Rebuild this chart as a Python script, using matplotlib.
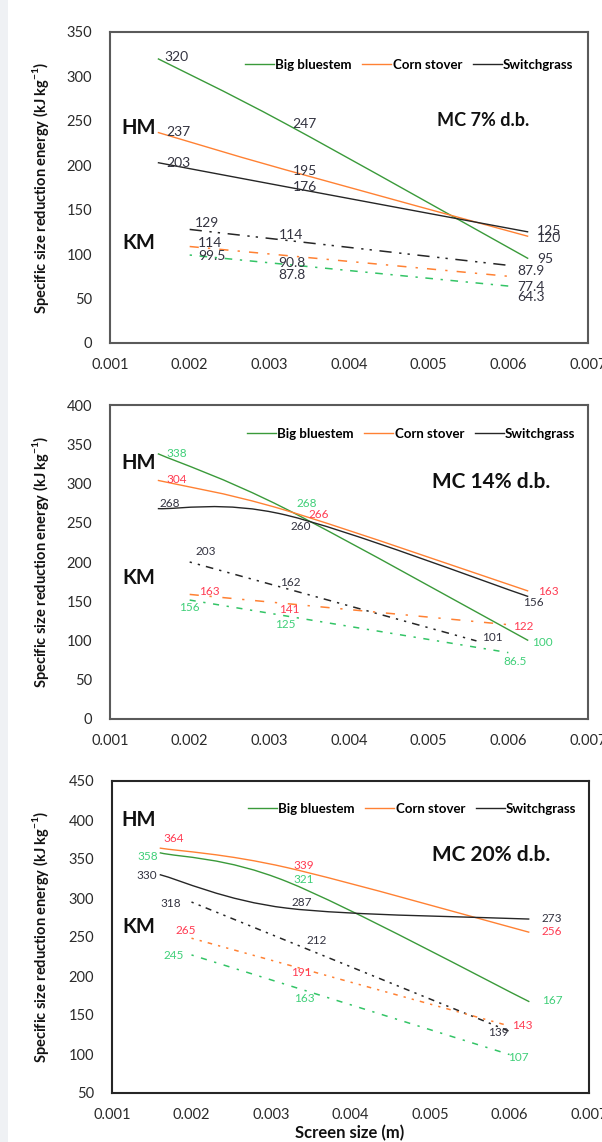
import numpy as np
import matplotlib
matplotlib.use("Agg")
import matplotlib.pyplot as plt
from matplotlib.path import Path
from matplotlib.patches import PathPatch, Rectangle
from matplotlib.lines import Line2D

plt.rcParams["font.family"] = ["Lato", "DejaVu Sans"]
plt.rcParams["mathtext.fontset"] = "custom"
plt.rcParams["mathtext.rm"] = "Lato"
plt.rcParams["mathtext.bf"] = "Lato:bold"

# ---------------- data ----------------
species = ["Big bluestem", "Corn stover", "Switchgrass"]
moisture_labels = ["MC 7% d.b.", "MC 14% d.b.", "MC 20% d.b."]
x_tick_values = [0.001, 0.002, 0.003, 0.004, 0.005, 0.006, 0.007]
x_tick_labels = ["0.001", "0.002", "0.003", "0.004", "0.005", "0.006", "0.007"]

# screen sizes (m)
hm_size = [0.0016, 0.0032, 0.00625]
km_size = [0.002, 0.0032, 0.006]
km_size_sg14 = [0.002, 0.0032, 0.0056]

# hammer mill (HM) energy, kJ/kg  (big bluestem, corn stover, switchgrass)
hm7_bb = [320, 247, 95]
hm7_cs = [237, 195, 120]
hm7_sg = [203, 176, 125]
hm14_bb = [338, 268, 100]
hm14_cs = [304, 266, 163]
hm14_sg = [268, 260, 156]
hm20_bb = [358, 321, 167]
hm20_cs = [364, 339, 256]
hm20_sg = [330, 287, 273]

# knife mill (KM) energy, kJ/kg
km7_bb = [99.5, 87.8, 64.3]
km7_cs = [114, 90.8, 77.4]
km7_sg = [129, 114, 87.9]
km14_bb = [156, 125, 86.5]
km14_cs = [163, 141, 122]
km14_sg = [203, 162, 101]
km20_bb = [245, 163, 107]
km20_cs = [265, 191, 143]
km20_sg = [318, 212, 139]

y_limits = [(0, 350), (0, 400), (50, 450)]

# ---------------- styling ----------------
W, H = 602, 1142
GREEN_HM = "#3a9a3a"
GREEN_KM = "#33c466"
ORANGE = "#ff8133"
BLACK = "#262626"
LBL_GREEN = "#3fcf78"
LBL_RED = "#ff3b52"
LBL_DARK = "#333340"

# axes frames in pixels: left, top, right, bottom
frames = [(110, 32, 588, 343), (110, 405, 588, 719), (112, 781, 589, 1093)]

# knife-mill dash patterns, order sg, cs, bb
km_dash = [
    [(0, (8, 5, 1.5, 4, 1.5, 5)), (0, (6, 6, 1.5, 6)), (0, (1.5, 5, 5, 5))],
    [(0, (1.5, 4, 1.5, 4, 5, 4)), (0, (6, 7, 1.5, 7)), (0, (4, 5, 1.5, 5))],
    [(0, (1.5, 3.5, 1.5, 3.5, 4, 3.5)), (0, (1.5, 4, 1.5, 4, 3, 4)), (0, (1.5, 5, 4, 5))],
]

# label offsets in pixels (dx, dy, ha) per series point
hm_offsets = [
    {"bb": [(7, 2, "left"), (7, 0, "left"), (9, 0, "left")],
     "cs": [(8, 0, "left"), (8, -1, "left"), (9, -2, "left")],
     "sg": [(8, 0, "left"), (8, 0, "left"), (9, 1, "left")]},
    {"bb": [(9, 0, "left"), (11, 5, "left"), (4, -2, "left")],
     "cs": [(9, 1, "left"), (23, -4, "left"), (10, 0, "left")],
     "sg": [(2, 5, "left"), (5, -12, "left"), (-5, -6, "left")]},
    {"bb": [(-2, -4, "right"), (7, 2, "left"), (13, 1, "left")],
     "cs": [(4, 10, "left"), (7, 2, "left"), (12, 1, "left")],
     "sg": [(-3, -1, "right"), (5, 6, "left"), (12, 1, "left")]},
]
km_offsets = [
    {"bb": [(9, -1, "left"), (-7, -10, "left"), (9, -11, "left")],
     "cs": [(8, -1, "left"), (-7, -1, "left"), (9, -13, "left")],
     "sg": [(5, 5, "left"), (-6, 7, "left"), (9, -6, "left")]},
    {"bb": [(-11, -11, "left"), (-10, -4, "left"), (-5, -10, "left")],
     "cs": [(9, 0, "left"), (-6, -1, "left"), (5, -3, "left")],
     "sg": [(6, 8, "left"), (-5, 9, "left"), (6, 2, "left")]},
    {"bb": [(-8, -15, "right"), (7, 6, "left"), (-1, -9, "left")],
     "cs": [(5, -5, "right"), (4, 11, "left"), (3, -5, "left")],
     "sg": [(-10, -20, "right"), (20, 26, "left"), (-21, -9, "left")]},
]

panels = [
    dict(hm={"bb": hm7_bb, "cs": hm7_cs, "sg": hm7_sg},
         km={"bb": km7_bb, "cs": km7_cs, "sg": km7_sg},
         km_x={"bb": km_size, "cs": km_size, "sg": km_size}),
    dict(hm={"bb": hm14_bb, "cs": hm14_cs, "sg": hm14_sg},
         km={"bb": km14_bb, "cs": km14_cs, "sg": km14_sg},
         km_x={"bb": km_size, "cs": km_size, "sg": km_size_sg14}),
    dict(hm={"bb": hm20_bb, "cs": hm20_cs, "sg": hm20_sg},
         km={"bb": km20_bb, "cs": km20_cs, "sg": km20_sg},
         km_x={"bb": km_size, "cs": km_size, "sg": km_size}),
]

hm_colors = {"bb": GREEN_HM, "cs": ORANGE, "sg": BLACK}
km_colors = {"bb": GREEN_KM, "cs": ORANGE, "sg": BLACK}
label_colors_plain = {"bb": LBL_DARK, "cs": LBL_DARK, "sg": LBL_DARK}
label_colors_tinted = {"bb": LBL_GREEN, "cs": LBL_RED, "sg": LBL_DARK}

text_pos = [
    dict(hm=(121, 128), km=(122, 243), mc=(437, 120), mc_size=13, legend=(245, 65)),
    dict(hm=(121, 463), km=(122, 578), mc=(432, 482), mc_size=15, legend=(247, 434)),
    dict(hm=(121, 820), km=(122, 927), mc=(432, 855), mc_size=15, legend=(248, 809)),
]
spine_colors = ["#5a5a5a", "#5a5a5a", "#262626"]


def smooth_path(xs, ys):
    """Spreadsheet-style smoothed line: cubic Bezier segments through the points."""
    pts = np.column_stack([xs, ys]).astype(float)
    n = len(pts)
    ext = np.vstack([pts[0], pts, pts[-1]])
    verts = [pts[0]]
    codes = [Path.MOVETO]
    for i in range(n - 1):
        p_prev, p0, p1, p_next = ext[i], ext[i + 1], ext[i + 2], ext[i + 3]
        c1 = p0 + (p1 - p_prev) / 6.0
        c2 = p1 - (p_next - p0) / 6.0
        verts += [c1, c2, p1]
        codes += [Path.CURVE4] * 3
    return Path(verts, codes)


def fig_xy(px, py):
    return px / W, 1 - py / H


fig = plt.figure(figsize=(W / 100, H / 100), dpi=100)
fig.patches.append(Rectangle((0, 0), 8 / W, 1, transform=fig.transFigure,
                             facecolor="#eff1f4", edgecolor="none", zorder=0))

for k, (panel, frame) in enumerate(zip(panels, frames)):
    l, t, r, b = frame
    ax = fig.add_axes([l / W, 1 - b / H, (r - l) / W, (b - t) / H])
    ax.set_xlim(0.001, 0.007)
    ymin, ymax = y_limits[k]
    ax.set_ylim(ymin, ymax)
    ax.set_xticks(x_tick_values)
    ax.set_xticklabels(x_tick_labels)
    ax.set_yticks(np.arange(ymin, ymax + 1, 50))
    ax.tick_params(length=0, labelsize=10.5, labelcolor="#2a2a2a")
    ax.tick_params(axis="y", pad=13)
    ax.tick_params(axis="x", pad=11)
    for sp in ax.spines.values():
        sp.set_color(spine_colors[k])
        sp.set_linewidth(1.5)

    lbl_cols = label_colors_plain if k == 0 else label_colors_tinted
    lbl_size = 10 if k == 0 else 8.5

    # hammer mill: smoothed solid lines through the measured points
    for s in ["bb", "cs", "sg"]:
        vals = panel["hm"][s]
        ax.add_patch(PathPatch(smooth_path(hm_size, vals), fill=False,
                               edgecolor=hm_colors[s], lw=1.0, zorder=3))
        for xv, yv, (dx, dy, ha) in zip(hm_size, vals, hm_offsets[k][s]):
            ax.annotate(f"{yv:g}", (xv, yv), xytext=(dx, dy),
                        textcoords="offset pixels", ha=ha, va="center",
                        fontsize=lbl_size, color=lbl_cols[s], zorder=4)

    # knife mill: linear trend lines over the measured points
    for j, s in enumerate(["sg", "cs", "bb"]):
        vals = panel["km"][s]
        xs = panel["km_x"][s]
        slope, icpt = np.polyfit(xs, vals, 1)
        xe = np.array([xs[0], xs[-1]])
        ax.plot(xe, slope * xe + icpt, color=km_colors[s], lw=1.1,
                linestyle=km_dash[k][j], zorder=2)
        for xv, yv, (dx, dy, ha) in zip(xs, vals, km_offsets[k][s]):
            ax.annotate(f"{yv:g}", (xv, yv), xytext=(dx, dy),
                        textcoords="offset pixels", ha=ha, va="center",
                        fontsize=lbl_size, color=lbl_cols[s], zorder=4)

    ax.set_ylabel(r"Specific size reduction energy (kJ kg$^{\mathbf{-1}}$)",
                  fontsize=10.5, fontweight="bold", color="#111111")
    ax.yaxis.set_label_coords((51 - l) / (r - l), 0.5)

    # legend (hammer-mill line styles)
    handles = [Line2D([], [], color=hm_colors[s], lw=1.0) for s in ["bb", "cs", "sg"]]
    lx, ly = text_pos[k]["legend"]
    ax.legend(handles, species, loc="center left",
              bbox_to_anchor=((lx - l) / (r - l), (b - ly) / (b - t)),
              ncol=3, frameon=False, borderpad=0, borderaxespad=0,
              handlelength=2.2, handletextpad=0.1, columnspacing=0.8,
              prop={"weight": "bold", "size": 9.5})

    tp = text_pos[k]
    fig.text(*fig_xy(*tp["hm"]), "HM", fontsize=14.5, fontweight="bold",
             ha="left", va="center", color="#111111")
    fig.text(*fig_xy(*tp["km"]), "KM", fontsize=14.5, fontweight="bold",
             ha="left", va="center", color="#111111")
    fig.text(*fig_xy(*tp["mc"]), moisture_labels[k], fontsize=tp["mc_size"],
             fontweight="bold", ha="left", va="center", color="#111111")

fig.text(*fig_xy(350, 1133), "Screen size (m)", fontsize=12, fontweight="bold",
         ha="center", va="center", color="#111111")

fig.savefig("out.png", dpi=100)
